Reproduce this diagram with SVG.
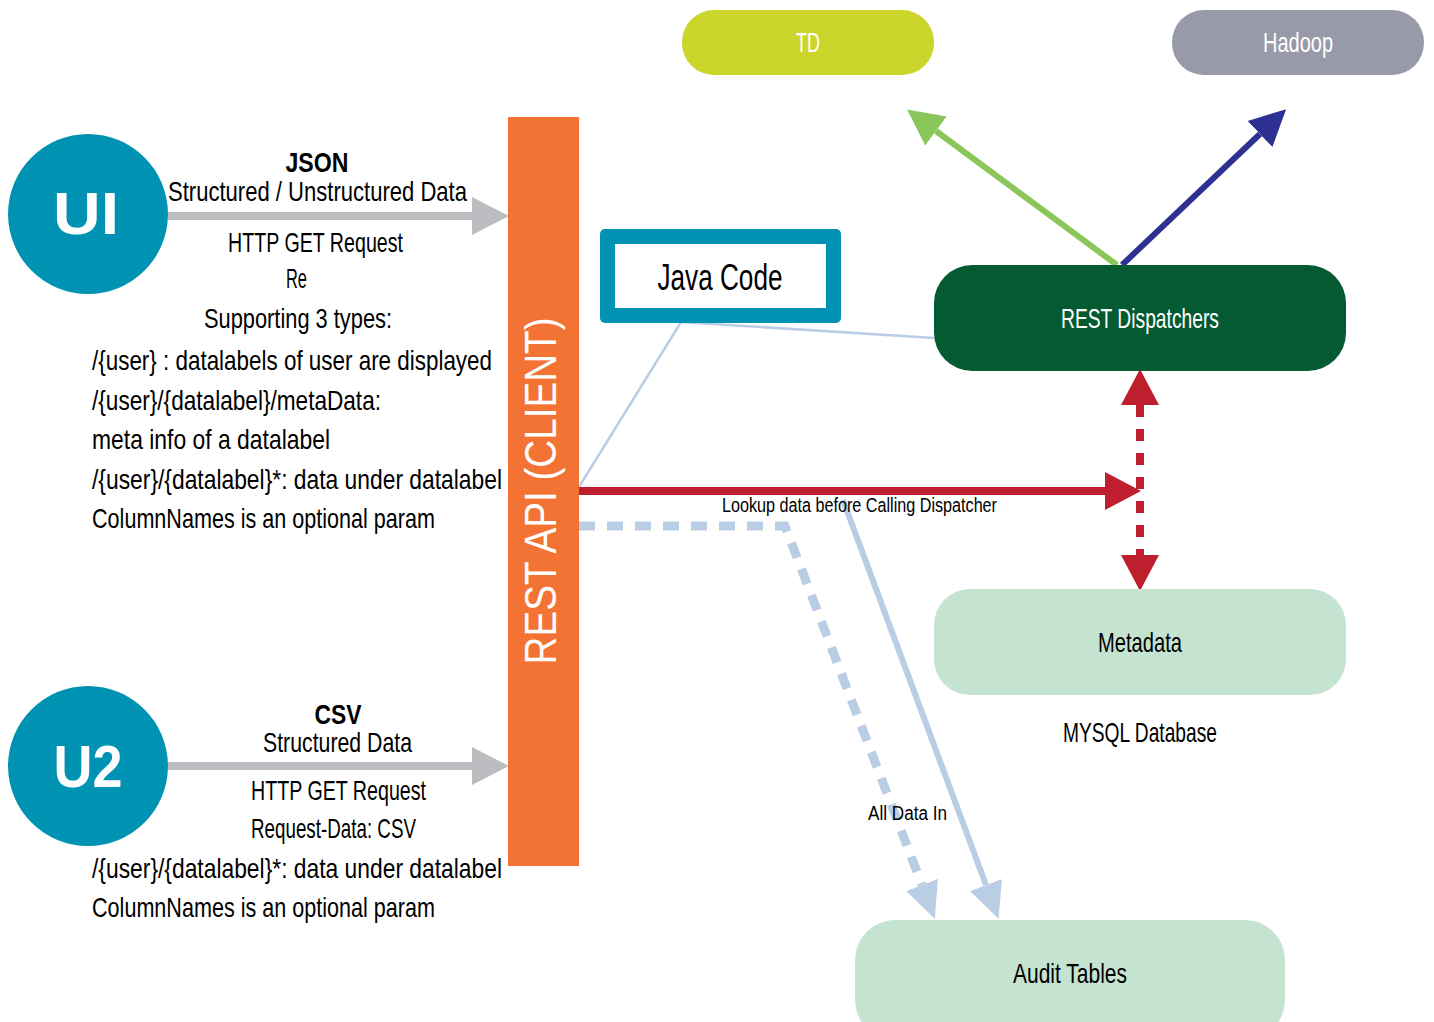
<svg xmlns="http://www.w3.org/2000/svg" width="1434" height="1022" viewBox="0 0 1434 1022">
<style>
text{font-family:"Liberation Sans",Arial,sans-serif;}
.t{font-size:28px;fill:#000;}
.s{font-size:20px;fill:#000;}
.w{font-size:28px;fill:#fff;}
.b{font-weight:bold;}
</style>
<defs>
<marker id="hGray" markerUnits="userSpaceOnUse" markerWidth="38" markerHeight="40" refX="0" refY="20" orient="auto"><path d="M0,1 L37,20 L0,39 z" fill="#bcbdc0"/></marker>
<marker id="hRed" markerUnits="userSpaceOnUse" markerWidth="38" markerHeight="40" refX="0" refY="20" orient="auto-start-reverse"><path d="M0,1 L36,20 L0,39 z" fill="#be1e2d"/></marker>
<marker id="hGreen" markerUnits="userSpaceOnUse" markerWidth="38" markerHeight="40" refX="0" refY="20" orient="auto"><path d="M0,2 L36,20 L0,38 z" fill="#8bc65a"/></marker>
<marker id="hNavy" markerUnits="userSpaceOnUse" markerWidth="38" markerHeight="40" refX="0" refY="20" orient="auto"><path d="M0,2 L36,20 L0,38 z" fill="#2e3192"/></marker>
<marker id="hLight" markerUnits="userSpaceOnUse" markerWidth="38" markerHeight="40" refX="0" refY="20" orient="auto"><path d="M0,3 L36,20 L0,37 z" fill="#b9cde5"/></marker>
</defs>
<rect width="1434" height="1022" fill="#fff"/>

<g id="connectors" fill="none">
<line x1="168" y1="216" x2="472" y2="216" stroke="#bcbdc0" stroke-width="8" marker-end="url(#hGray)"/>
<line x1="168" y1="766" x2="472" y2="766" stroke="#bcbdc0" stroke-width="8" marker-end="url(#hGray)"/>
<polyline points="579,487 681,322 934,338" stroke="#b9cde5" stroke-width="2.5"/>
<line x1="1117" y1="265" x2="936" y2="131" stroke="#8bc65a" stroke-width="6" marker-end="url(#hGreen)"/>
<line x1="1122" y1="265" x2="1260" y2="134" stroke="#2e3192" stroke-width="6" marker-end="url(#hNavy)"/>
<line x1="579" y1="491" x2="1105" y2="491" stroke="#be1e2d" stroke-width="8" marker-end="url(#hRed)"/>
<line x1="1140" y1="405" x2="1140" y2="555" stroke="#be1e2d" stroke-width="8" stroke-dasharray="12 12" marker-start="url(#hRed)" marker-end="url(#hRed)"/>
<polyline points="579,526 785,526 922,885" stroke="#b9cde5" stroke-width="9" stroke-dasharray="16 12" marker-end="url(#hLight)"/>
<line x1="843" y1="500" x2="986" y2="885" stroke="#b9cde5" stroke-width="6" marker-end="url(#hLight)"/>
<text class="s" x="722" y="512" textLength="275" lengthAdjust="spacingAndGlyphs">Lookup data before Calling Dispatcher</text>
<text class="s" x="868" y="820" textLength="79" lengthAdjust="spacingAndGlyphs">All Data In</text>
</g>

<g id="ui">
<circle cx="88" cy="214" r="80" fill="#0092b3"/>
<text class="b" x="86" y="234" font-size="60" fill="#fff" text-anchor="middle" textLength="66" lengthAdjust="spacingAndGlyphs">UI</text>
<text class="t b" x="317" y="172" font-size="30" text-anchor="middle" textLength="63" lengthAdjust="spacingAndGlyphs">JSON</text>
<text class="t" x="168" y="201" textLength="299" lengthAdjust="spacingAndGlyphs">Structured / Unstructured Data</text>
<text class="t" x="228" y="252" textLength="175" lengthAdjust="spacingAndGlyphs">HTTP GET Request</text>
<text class="t" x="286" y="288" textLength="21" lengthAdjust="spacingAndGlyphs">Re</text>
<text class="t" x="204" y="328" textLength="188" lengthAdjust="spacingAndGlyphs">Supporting 3 types:</text>
<text class="t" x="92" y="370" textLength="400" lengthAdjust="spacingAndGlyphs">/{user} : datalabels of user are displayed</text>
<text class="t" x="92" y="410" textLength="289" lengthAdjust="spacingAndGlyphs">/{user}/{datalabel}/metaData:</text>
<text class="t" x="92" y="449" textLength="238" lengthAdjust="spacingAndGlyphs">meta info of a datalabel</text>
<text class="t" x="92" y="489" textLength="410" lengthAdjust="spacingAndGlyphs">/{user}/{datalabel}*: data under datalabel</text>
<text class="t" x="92" y="528" textLength="343" lengthAdjust="spacingAndGlyphs">ColumnNames is an optional param</text>
</g>

<g id="u2">
<circle cx="88" cy="766" r="80" fill="#0092b3"/>
<text class="b" x="88" y="787" font-size="60" fill="#fff" text-anchor="middle" textLength="69" lengthAdjust="spacingAndGlyphs">U2</text>
<text class="t b" x="338" y="724" font-size="30" text-anchor="middle" textLength="47" lengthAdjust="spacingAndGlyphs">CSV</text>
<text class="t" x="263" y="752" textLength="149" lengthAdjust="spacingAndGlyphs">Structured Data</text>
<text class="t" x="251" y="800" textLength="175" lengthAdjust="spacingAndGlyphs">HTTP GET Request</text>
<text class="t" x="251" y="838" textLength="165" lengthAdjust="spacingAndGlyphs">Request-Data: CSV</text>
<text class="t" x="92" y="878" textLength="410" lengthAdjust="spacingAndGlyphs">/{user}/{datalabel}*: data under datalabel</text>
<text class="t" x="92" y="917" textLength="343" lengthAdjust="spacingAndGlyphs">ColumnNames is an optional param</text>
</g>

<g id="rest-api">
<rect x="508" y="117" width="71" height="749" fill="#f37335"/>
<text transform="translate(556,491) rotate(-90)" font-size="44" fill="#fff" text-anchor="middle" textLength="347" lengthAdjust="spacingAndGlyphs">REST API (CLIENT)</text>
</g>

<g id="java-code">
<rect x="600" y="229" width="241" height="94" rx="5" fill="#0092b3"/>
<rect x="615" y="244" width="211" height="64" fill="#fff"/>
<text x="720" y="290" font-size="36" fill="#000" text-anchor="middle" textLength="125" lengthAdjust="spacingAndGlyphs">Java Code</text>
</g>

<g id="td">
<rect x="682" y="10" width="252" height="65" rx="32" fill="#ccd52c"/>
<text class="w" x="808" y="52" text-anchor="middle" textLength="24" lengthAdjust="spacingAndGlyphs">TD</text>
</g>

<g id="hadoop">
<rect x="1172" y="10" width="252" height="65" rx="32" fill="#9899a9"/>
<text class="w" x="1298" y="52" text-anchor="middle" textLength="70" lengthAdjust="spacingAndGlyphs">Hadoop</text>
</g>

<g id="rest-dispatchers">
<rect x="934" y="265" width="412" height="106" rx="38" fill="#045a31"/>
<text class="w" x="1140" y="328" text-anchor="middle" textLength="158" lengthAdjust="spacingAndGlyphs">REST Dispatchers</text>
</g>

<g id="metadata">
<rect x="934" y="589" width="412" height="106" rx="36" fill="#c5e3d1"/>
<text class="t" x="1140" y="652" text-anchor="middle" textLength="84" lengthAdjust="spacingAndGlyphs">Metadata</text>
<text class="t" x="1140" y="742" text-anchor="middle" textLength="154" lengthAdjust="spacingAndGlyphs">MYSQL Database</text>
</g>

<g id="audit-tables">
<rect x="855" y="920" width="430" height="120" rx="40" fill="#c5e3d1"/>
<text class="t" x="1070" y="983" text-anchor="middle" textLength="114" lengthAdjust="spacingAndGlyphs">Audit Tables</text>
</g>
</svg>
